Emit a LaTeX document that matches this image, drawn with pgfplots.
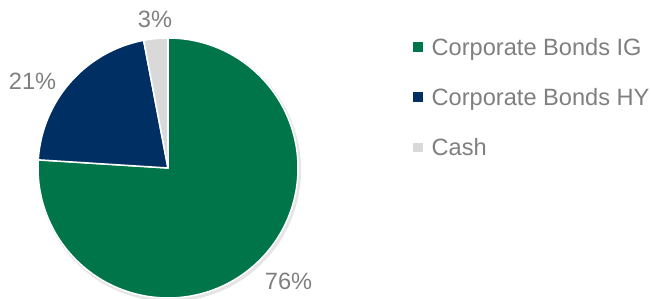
\documentclass[border=0pt]{standalone}
\usepackage{pgfplots}
\pgfplotsset{compat=1.18}
\usepackage{pgfplotstable}
\usepackage{fontspec}
\setmainfont{Liberation Sans}
\definecolor{ig}{HTML}{00754A}
\definecolor{hy}{HTML}{003063}
\definecolor{cash}{HTML}{D9D9D9}
\definecolor{txt}{HTML}{7F7F7F}
\pgfplotstableread{
label value
IG 76
HY 21
Cash 3
}\piedata
\begin{document}
\begin{tikzpicture}
\pgfplotstablegetelem{0}{value}\of\piedata \let\va\pgfplotsretval
\pgfplotstablegetelem{1}{value}\of\piedata \let\vb\pgfplotsretval
\pgfplotstablegetelem{2}{value}\of\piedata \let\vc\pgfplotsretval
\pgfmathsetmacro{\tot}{\va+\vb+\vc}
\pgfmathsetmacro{\aA}{90}
\pgfmathsetmacro{\aB}{90-360*(\va/\tot)}
\pgfmathsetmacro{\aC}{\aB-360*(\vb/\tot)}
\pgfmathsetmacro{\aD}{\aC-360*(\vc/\tot)}
\begin{axis}[scale only axis, width=651pt, height=299pt,
  xmin=0, xmax=651, ymin=0, ymax=299, y dir=reverse,
  hide axis, clip=false]
\fill[black, opacity=0.10] (axis cs:169.5,170) circle[radius=131.5pt];
\fill[ig, draw=white, line width=1.5pt, line join=round] (axis cs:168,168) -- ++(\aA:130pt) arc[start angle=\aA, end angle=\aB, radius=130pt] -- cycle;
\fill[hy, draw=white, line width=1.5pt, line join=round] (axis cs:168,168) -- ++(\aB:130pt) arc[start angle=\aB, end angle=\aC, radius=130pt] -- cycle;
\fill[cash, draw=white, line width=1.5pt, line join=round] (axis cs:168,168) -- ++(\aC:130pt) arc[start angle=\aC, end angle=\aD, radius=130pt] -- cycle;
\begin{scope}[every node/.style={text=txt, font=\fontsize{23.6}{28}\selectfont, inner sep=0pt}]
\node[anchor=base] at (axis cs:155,27.3) {3\%};
\node[anchor=base] at (axis cs:32.5,90) {21\%};
\node[anchor=base] at (axis cs:288.5,290) {76\%};
\fill[ig] (axis cs:413,42.5) rectangle (axis cs:422.5,52);
\fill[hy] (axis cs:413,92.5) rectangle (axis cs:422.5,102);
\fill[cash] (axis cs:413,143) rectangle (axis cs:422.5,152.5);
\node[anchor=base west] at (axis cs:431.5,55.5) {Corporate Bonds IG};
\node[anchor=base west] at (axis cs:431.5,105.5) {Corporate Bonds HY};
\node[anchor=base west] at (axis cs:431.5,156) {Cash};
\end{scope}
\end{axis}
\pgfresetboundingbox
\useasboundingbox (0,0) rectangle (651pt,299pt);
\end{tikzpicture}
\end{document}
